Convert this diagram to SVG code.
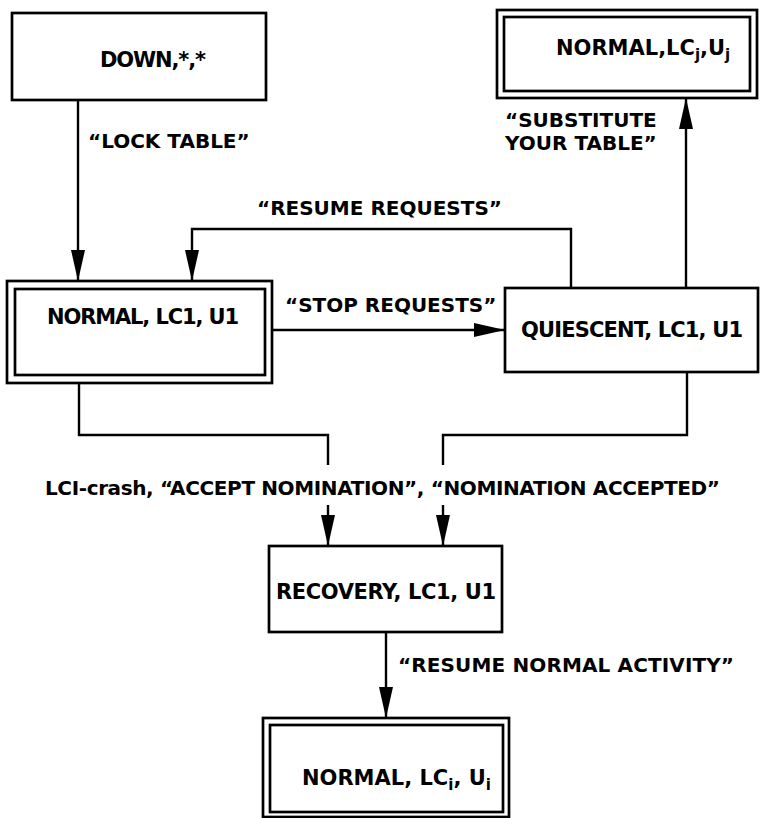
<svg xmlns="http://www.w3.org/2000/svg" width="760" height="818" viewBox="0 0 760 818">
<defs>
<style>
.box{fill:#fff;stroke:#000;stroke-width:2.7}
.ln{fill:none;stroke:#000;stroke-width:2.4}
.t{font-family:"DejaVu Sans","Liberation Sans",Arial,sans-serif;font-weight:bold;fill:#000}
.n{font-size:21px}
.l{font-size:20px}
.s{font-size:15px}
</style>
<marker id="ah" markerUnits="userSpaceOnUse" markerWidth="32" markerHeight="16" refX="31" refY="7" orient="auto">
<path d="M0,0 L31,7 L0,14 z" fill="#000"/>
</marker>
</defs>
<rect width="760" height="818" fill="#fff"/>

<g id="connectors">
<path class="ln" d="M78,100 V281" marker-end="url(#ah)"/>
<path class="ln" d="M571,288 V229 H192 V281" marker-end="url(#ah)"/>
<path class="ln" d="M272,330 H505" marker-end="url(#ah)"/>
<path class="ln" d="M686,288 V98" marker-end="url(#ah)"/>
<path class="ln" d="M79,383 V435 H328 V465"/>
<path class="ln" d="M328,505 V546" marker-end="url(#ah)"/>
<path class="ln" d="M687,372 V435 H443 V465"/>
<path class="ln" d="M443,505 V546" marker-end="url(#ah)"/>
<path class="ln" d="M386,632 V718" marker-end="url(#ah)"/>
<text class="t l" x="88" y="148">“LOCK TABLE”</text>
<text class="t l" x="505" y="127">“SUBSTITUTE</text>
<text class="t l" x="505" y="150">YOUR TABLE”</text>
<text class="t l" x="257" y="215">“RESUME REQUESTS”</text>
<text class="t l" x="285" y="312">“STOP REQUESTS”</text>
<text class="t l" x="45" y="495" textLength="675">LCI-crash, “ACCEPT NOMINATION”, “NOMINATION ACCEPTED”</text>
<text class="t l" x="398" y="672" textLength="336">“RESUME NORMAL ACTIVITY”</text>
</g>

<g id="down">
<rect class="box" x="12" y="13" width="254" height="87"/>
<text class="t n" x="100" y="67" textLength="106">DOWN,*,*</text>
</g>

<g id="normal-j">
<rect class="box" x="497" y="10" width="260" height="88"/>
<rect class="box" x="504" y="17" width="246" height="74"/>
<text class="t n" x="556" y="55">NORMAL,LC<tspan class="s" dy="5">j</tspan><tspan dy="-5">,U</tspan><tspan class="s" dy="5">j</tspan></text>
</g>

<g id="normal-1">
<rect class="box" x="7" y="281" width="265" height="102"/>
<rect class="box" x="15" y="289" width="250" height="86"/>
<text class="t n" x="47" y="324" textLength="192">NORMAL, LC1, U1</text>
</g>

<g id="quiescent">
<rect class="box" x="505" y="288" width="253" height="84"/>
<text class="t n" x="521" y="337" textLength="222">QUIESCENT, LC1, U1</text>
</g>

<g id="recovery">
<rect class="box" x="269" y="546" width="233" height="86"/>
<text class="t n" x="276" y="599" textLength="220">RECOVERY, LC1, U1</text>
</g>

<g id="normal-i">
<rect class="box" x="263" y="718" width="246" height="99"/>
<rect class="box" x="270" y="725" width="233" height="87"/>
<text class="t n" x="302" y="785">NORMAL, LC<tspan class="s" dy="5">i</tspan><tspan dy="-5">, U</tspan><tspan class="s" dy="5">i</tspan></text>
</g>
</svg>
